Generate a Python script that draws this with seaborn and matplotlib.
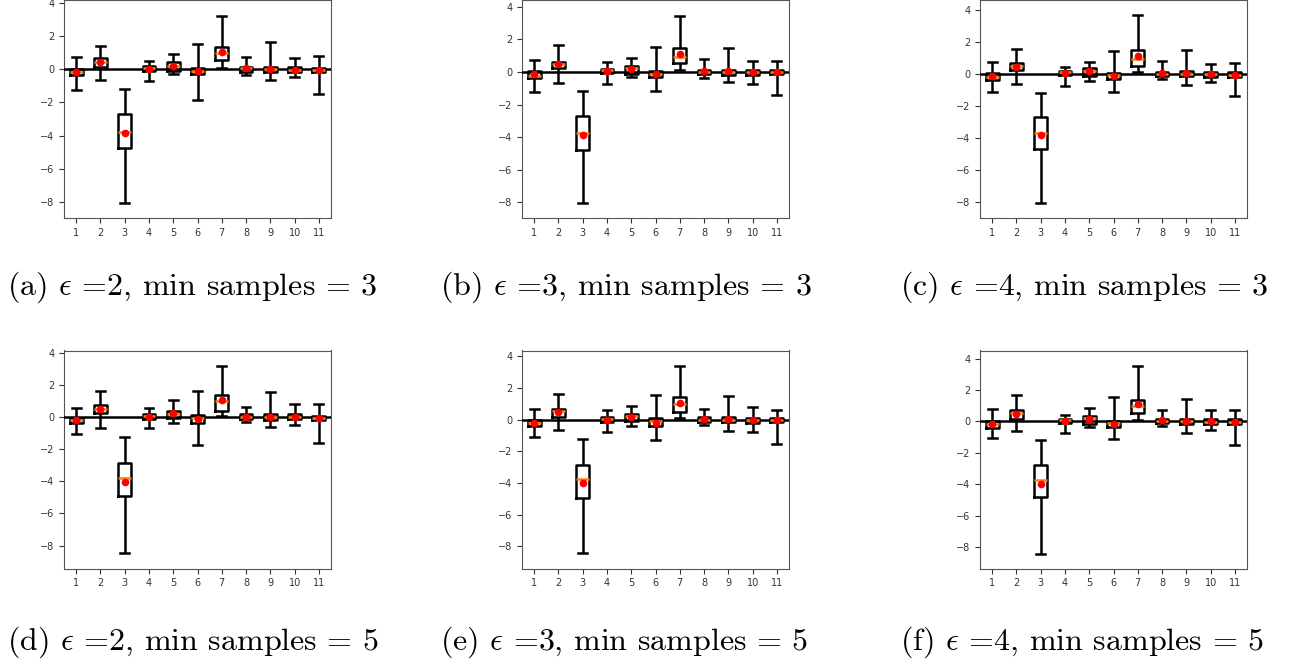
import numpy as np
import pandas as pd
import matplotlib.pyplot as plt
import seaborn as sns

# categories on the x axis
categories = [str(i) for i in range(1, 12)]

# panel captions
panel_tags = ["(a)", "(b)", "(c)", "(d)", "(e)", "(f)"]
eps_values = [2, 3, 4, 2, 3, 4]
min_samples = [3, 3, 3, 5, 5, 5]

# box statistics, one row per panel (a..f)
whisker_low = [
    [-1.25, -0.64, -8.05, -0.70, -0.28, -1.85, 0.06, -0.34, -0.66, -0.48, -1.49],
    [-1.21, -0.67, -8.05, -0.76, -0.33, -1.17, 0.10, -0.35, -0.61, -0.72, -1.39],
    [-1.14, -0.62, -8.05, -0.75, -0.44, -1.14, 0.10, -0.29, -0.67, -0.48, -1.37],
    [-1.04, -0.67, -8.44, -0.67, -0.35, -1.75, 0.06, -0.31, -0.60, -0.50, -1.64],
    [-1.09, -0.67, -8.44, -0.78, -0.38, -1.31, 0.08, -0.34, -0.74, -0.78, -1.54],
    [-1.08, -0.59, -8.41, -0.72, -0.36, -1.12, 0.10, -0.28, -0.76, -0.53, -1.49],
]
q1 = [
    [-0.36, 0.16, -4.73, -0.12, -0.10, -0.30, 0.54, -0.14, -0.16, -0.16, -0.18],
    [-0.39, 0.22, -4.76, -0.06, -0.10, -0.33, 0.55, -0.12, -0.16, -0.16, -0.14],
    [-0.37, 0.25, -4.66, -0.06, -0.12, -0.31, 0.52, -0.15, -0.12, -0.19, -0.17],
    [-0.40, 0.25, -4.93, -0.10, -0.08, -0.37, 0.35, -0.12, -0.17, -0.12, -0.19],
    [-0.40, 0.17, -4.93, -0.15, -0.10, -0.40, 0.48, -0.17, -0.17, -0.19, -0.17],
    [-0.40, 0.19, -4.78, -0.10, -0.17, -0.36, 0.53, -0.10, -0.15, -0.19, -0.19],
]
median = [
    [-0.18, 0.46, -3.79, 0.08, 0.22, -0.10, 1.00, 0.06, 0.00, -0.02, -0.04],
    [-0.25, 0.47, -3.74, 0.10, 0.22, -0.10, 0.92, 0.02, 0.00, -0.02, -0.02],
    [-0.17, 0.50, -3.70, 0.12, 0.21, -0.08, 0.96, 0.02, 0.02, -0.02, -0.04],
    [-0.19, 0.52, -3.83, 0.04, 0.21, -0.08, 0.96, 0.02, 0.00, 0.00, -0.04],
    [-0.21, 0.53, -3.77, 0.06, 0.21, -0.10, 0.95, 0.00, 0.00, -0.02, -0.04],
    [-0.17, 0.51, -3.72, 0.08, 0.21, -0.08, 0.96, 0.06, 0.02, -0.02, -0.02],
]
q3 = [
    [0.02, 0.66, -2.70, 0.20, 0.42, 0.08, 1.37, 0.16, 0.14, 0.14, 0.10],
    [0.06, 0.63, -2.70, 0.18, 0.39, 0.08, 1.49, 0.12, 0.14, 0.14, 0.10],
    [0.04, 0.71, -2.70, 0.19, 0.40, 0.06, 1.52, 0.15, 0.17, 0.15, 0.10],
    [-0.04, 0.73, -2.89, 0.17, 0.37, 0.10, 1.37, 0.15, 0.15, 0.17, 0.08],
    [-0.04, 0.65, -2.86, 0.13, 0.36, 0.08, 1.41, 0.13, 0.13, 0.10, 0.08],
    [0.02, 0.70, -2.80, 0.15, 0.36, 0.06, 1.40, 0.19, 0.15, 0.15, 0.15],
]
whisker_high = [
    [0.77, 1.43, -1.17, 0.50, 0.91, 1.53, 3.24, 0.72, 1.63, 0.66, 0.83],
    [0.74, 1.64, -1.15, 0.59, 0.86, 1.53, 3.44, 0.82, 1.49, 0.70, 0.67],
    [0.73, 1.54, -1.19, 0.44, 0.77, 1.46, 3.66, 0.83, 1.52, 0.62, 0.67],
    [0.58, 1.60, -1.25, 0.54, 1.02, 1.64, 3.18, 0.60, 1.54, 0.83, 0.83],
    [0.69, 1.64, -1.22, 0.59, 0.86, 1.54, 3.41, 0.67, 1.49, 0.78, 0.63],
    [0.79, 1.66, -1.21, 0.42, 0.85, 1.55, 3.55, 0.72, 1.44, 0.76, 0.74],
]
means = [
    [-0.14, 0.42, -3.87, 0.04, 0.20, -0.12, 1.07, 0.06, 0.02, -0.02, -0.04],
    [-0.12, 0.47, -3.84, 0.06, 0.20, -0.12, 1.10, 0.04, 0.04, -0.02, -0.02],
    [-0.12, 0.46, -3.83, 0.06, 0.19, -0.15, 1.14, 0.08, 0.08, 0.00, -0.06],
    [-0.19, 0.48, -4.07, 0.02, 0.23, -0.12, 1.02, 0.02, 0.02, 0.00, -0.06],
    [-0.19, 0.46, -4.00, 0.00, 0.19, -0.19, 1.07, 0.02, 0.02, -0.02, -0.06],
    [-0.13, 0.45, -3.95, 0.04, 0.19, -0.15, 1.10, 0.08, 0.06, 0.00, -0.04],
]
y_limits = [(-8.98, 4.19), (-8.96, 4.42), (-8.98, 4.61),
            (-9.43, 4.13), (-9.41, 4.36), (-9.36, 4.52)]

plt.rcParams["mathtext.fontset"] = "cm"

W, H = 1314, 663
fig = plt.figure(figsize=(W / 100, H / 100), dpi=100)

col_left = [64, 522, 980]
row_top = [0, 350.5]
ax_w, ax_h = 267, 218
cap_x = [7, 440, 900]
cap_y = [287, 642]

for i in range(6):
    r, c = divmod(i, 3)
    ax = fig.add_axes([col_left[c] / W, 1 - (row_top[r] + ax_h) / H, ax_w / W, ax_h / H])

    # five-number summary per category -> seaborn computes the boxes
    rows = []
    for k, cat in enumerate(categories):
        for v in (whisker_low[i][k], q1[i][k], median[i][k], q3[i][k], whisker_high[i][k]):
            rows.append({"cat": cat, "value": v})
    df = pd.DataFrame(rows)

    sns.boxplot(data=df, x="cat", y="value", order=categories, whis=(0, 100),
                fill=False, color="black", linewidth=1.8, width=0.53,
                showfliers=False, ax=ax,
                medianprops={"color": "#ff7f0e", "linewidth": 1.8, "zorder": 3.5},
                capwidths=0.36)
    ax.axhline(0, color="black", linewidth=1.8, zorder=3)
    ax.errorbar(np.arange(len(categories)), means[i], yerr=0.15, fmt="o",
                color="red", ms=4.5, elinewidth=1.3, capsize=0, zorder=4)

    ax.set_ylim(*y_limits[i])
    ax.set_xlim(-0.5, len(categories) - 0.5)
    ax.set_yticks([-8, -6, -4, -2, 0, 2, 4])
    ax.set_xlabel("")
    ax.set_ylabel("")
    ax.tick_params(labelsize=7, colors="#333333")
    for s in ax.spines.values():
        s.set_color("#555555")

    fig.text(cap_x[c] / W, 1 - cap_y[r] / H,
             rf"{panel_tags[i]} $\epsilon$ ={eps_values[i]}, min samples = {min_samples[i]}",
             fontfamily="cmr10", fontsize=23, va="center", ha="left")

fig.savefig("out.png", dpi=100)
